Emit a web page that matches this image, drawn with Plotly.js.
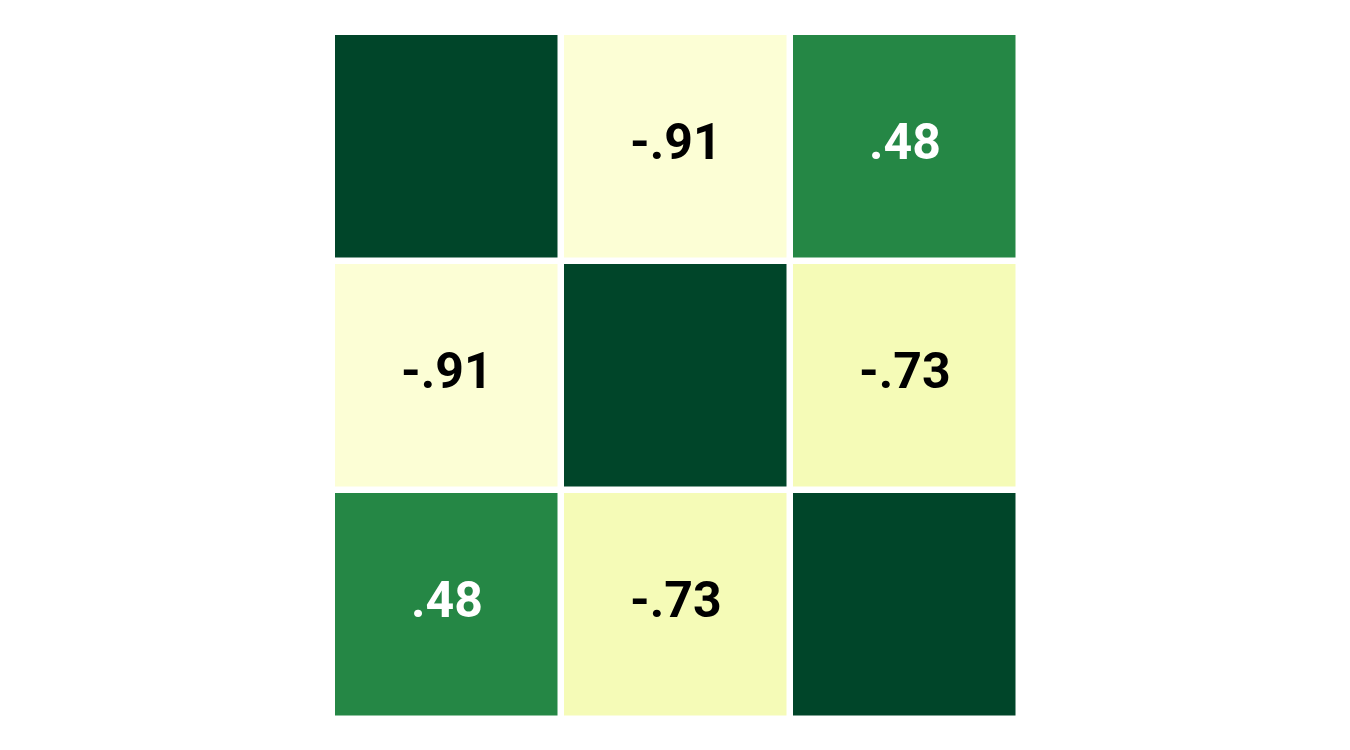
<!DOCTYPE html>
<html>
<head>
<meta charset="utf-8">
<script src="https://cdn.plot.ly/plotly-3.0.1.min.js"></script>
<style>html,body{margin:0;padding:0;background:#fff;}#chart{width:1350px;height:750px;}</style>
</head>
<body>
<div id="chart"></div>
<script>
const variables = ['A', 'B', 'C'];
const row0 = [1.00, -0.91, 0.48];
const row1 = [-0.91, 1.00, -0.73];
const row2 = [0.48, -0.73, 1.00];
const matrix = [row0, row1, row2];
const ylgn = [
  [0.000, '#ffffe5'], [0.125, '#f7fcb9'], [0.250, '#d9f0a3'], [0.375, '#addd8e'],
  [0.500, '#78c679'], [0.625, '#41ab5d'], [0.750, '#238443'], [0.875, '#006837'],
  [1.000, '#004529']
];

function fmt(v) {
  const s = Math.abs(v).toFixed(2).replace(/^0/, '');
  return (v < 0 ? '-' : '') + s;
}

const annotations = [];
matrix.forEach((row, i) => {
  row.forEach((v, j) => {
    if (i === j) return;
    annotations.push({
      x: variables[j], y: variables[i], xref: 'x', yref: 'y',
      text: fmt(v), showarrow: false, yshift: 5,
      font: {family: 'Roboto', size: 50, weight: 'bold', color: v > 0 ? '#ffffff' : '#000000'}
    });
  });
});

Plotly.newPlot('chart', [{
  type: 'heatmap',
  x: variables, y: variables, z: matrix,
  zmin: -1, zmax: 1,
  colorscale: ylgn,
  showscale: false,
  xgap: 6.5, ygap: 6.5,
  hoverinfo: 'none'
}], {
  width: 1350, height: 750,
  margin: {l: 332, r: 331, t: 32, b: 31},
  paper_bgcolor: '#ffffff', plot_bgcolor: '#ffffff',
  xaxis: {visible: false, showgrid: false, zeroline: false},
  yaxis: {visible: false, showgrid: false, zeroline: false, autorange: 'reversed'},
  annotations: annotations,
  font: {family: 'Roboto'}
}, {displayModeBar: false, staticPlot: true});
</script>
</body>
</html>
